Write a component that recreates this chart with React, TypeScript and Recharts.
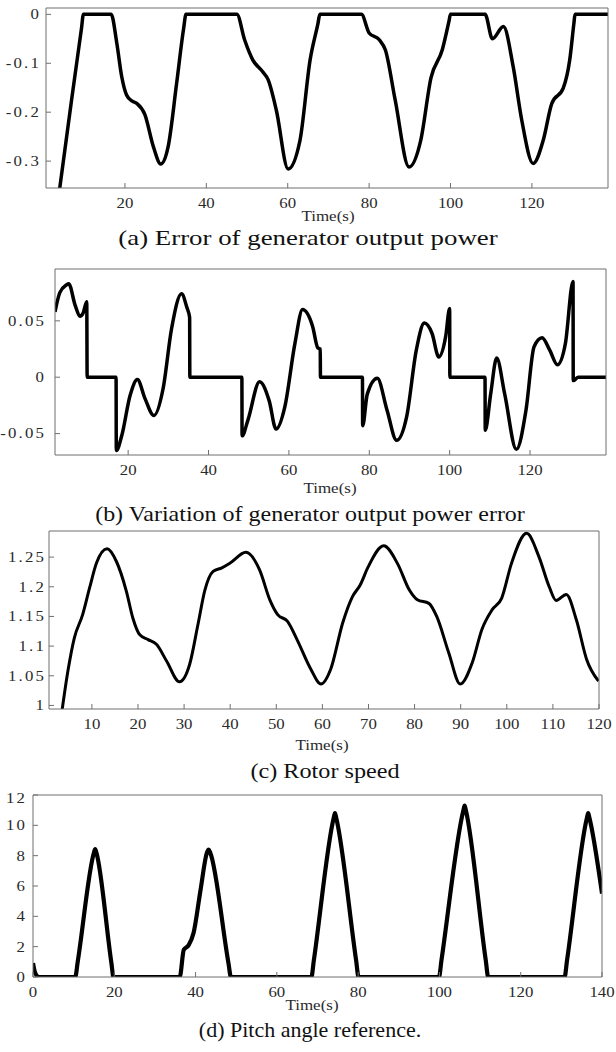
import React from 'react';
import { LineChart, Line, XAxis, YAxis } from 'recharts';

// (a) error of generator output power
const timeA = [3.9, 6.8, 9.3, 9.8, 13, 16.6, 18.0, 19.2, 20.4, 21.7, 22.9, 24.9, 27, 28.8, 30.6, 32.7, 34.4, 35, 41, 47.5, 49.4, 51.4, 53.8, 55.2, 57.2, 60.1, 63, 65.5, 67.4, 67.9, 73, 78.1, 80, 82.5, 84, 86.4, 89.8, 92.7, 95.2, 98, 99.6, 100, 104, 108.5, 110.3, 113, 115.4, 117.5, 120.3, 122.8, 124.9, 127.7, 129.3, 130.3, 130.6, 135, 138.7];
const errA = [-0.36, -0.18, -0.03, 0, 0, 0, -0.059, -0.127, -0.165, -0.177, -0.182, -0.205, -0.271, -0.306, -0.271, -0.141, -0.03, 0, 0, 0, -0.052, -0.093, -0.117, -0.134, -0.196, -0.316, -0.258, -0.093, -0.02, 0, 0, 0, -0.038, -0.052, -0.073, -0.175, -0.312, -0.257, -0.13, -0.072, -0.015, 0, 0, 0, -0.05, -0.025, -0.107, -0.216, -0.305, -0.257, -0.182, -0.151, -0.093, -0.02, 0, 0, 0];

// (b) variation of generator output power error
const timeB = [1.8, 3.0, 4.7, 5.2, 6.8, 8.0, 8.8, 9.7, 9.8, 13, 17, 17.05, 18.4, 20.5, 22.3, 24.2, 26.4, 28.7, 30.8, 33.3, 34.6, 35.3, 35.35, 41, 48.3, 48.35, 49.8, 52.7, 55.1, 56.8, 59, 61.5, 63.4, 65.9, 67.2, 67.8, 67.85, 73, 78.3, 78.35, 79.5, 82, 84.4, 86.8, 89.3, 91.7, 93.7, 95.6, 97.3, 99, 100, 100.05, 104, 108.8, 108.85, 110.2, 111.7, 113.7, 116.6, 119, 121, 123, 124.9, 126.8, 128.8, 130.7, 130.75, 132, 136, 138.9];
const varB = [0.058, 0.075, 0.082, 0.083, 0.064, 0.054, 0.057, 0.067, 0, 0, 0, -0.065, -0.052, -0.016, -0.002, -0.019, -0.034, -0.01, 0.043, 0.074, 0.062, 0.053, 0, 0, 0, -0.052, -0.038, -0.004, -0.021, -0.046, -0.026, 0.03, 0.06, 0.045, 0.026, 0.025, 0, 0, 0, -0.043, -0.015, -0.001, -0.029, -0.056, -0.035, 0.024, 0.048, 0.039, 0.018, 0.036, 0.061, 0, 0, 0, -0.047, -0.015, 0.017, -0.015, -0.064, -0.029, 0.027, 0.035, 0.024, 0.011, 0.03, 0.085, -0.003, 0, 0, 0];

// (c) rotor speed
const timeC = [3.5, 4.8, 6.2, 8.0, 9.5, 11, 13.3, 15.3, 17.5, 18.9, 20.4, 22.2, 24, 26.2, 29, 31.2, 33, 34.5, 36.3, 38.2, 40, 43.4, 46.4, 48.6, 50.3, 52.4, 54.5, 57.5, 59.7, 61.8, 64.4, 66.5, 68.2, 69.9, 73.3, 76.3, 78.9, 80.6, 83.1, 84.8, 87.4, 89.9, 92.5, 94.6, 96.8, 98.9, 101, 104.3, 107, 109.2, 110.7, 112.9, 115.1, 117.3, 119.9];
const speedC = [0.99, 1.058, 1.114, 1.153, 1.198, 1.24, 1.264, 1.243, 1.192, 1.147, 1.119, 1.111, 1.103, 1.075, 1.04, 1.069, 1.136, 1.194, 1.226, 1.232, 1.24, 1.258, 1.228, 1.178, 1.153, 1.142, 1.111, 1.061, 1.036, 1.061, 1.139, 1.183, 1.203, 1.233, 1.269, 1.239, 1.194, 1.178, 1.172, 1.15, 1.089, 1.036, 1.072, 1.128, 1.161, 1.181, 1.239, 1.29, 1.25, 1.2, 1.177, 1.187, 1.144, 1.078, 1.041];

// (d) pitch angle reference
const timeD = [0, 0.5, 1.4, 6, 10.4, 11, 15.0, 15.3, 15.6, 19.3, 19.8, 28, 36.1, 37.1, 38.3, 39.5, 41.2, 42.8, 43.2, 43.6, 48.1, 48.7, 58, 68.5, 69.1, 74, 74.3, 74.6, 79.5, 80.1, 90, 99.9, 100.5, 105.9, 106.2, 106.5, 111.4, 112, 121, 130.8, 131.4, 136.3, 136.6, 136.9, 140];
const pitchD = [0.92, 0.3, 0, 0, 0, 1.0, 8.2, 8.43, 8.2, 0.9, 0, 0, 0, 1.8, 2.1, 2.9, 5.7, 8.2, 8.4, 8.2, 0.9, 0, 0, 0, 1.1, 10.5, 10.8, 10.5, 1.1, 0, 0, 0, 1.1, 11.0, 11.3, 11.0, 1.1, 0, 0, 0, 1.1, 10.5, 10.8, 10.5, 5.5];

const ticksA_x = [20, 40, 60, 80, 100, 120];
const ticksA_y = [-0.3, -0.2, -0.1, 0];
const ticksB_x = [20, 40, 60, 80, 100, 120];
const ticksB_y = [-0.05, 0, 0.05];
const ticksC_x = [10, 20, 30, 40, 50, 60, 70, 80, 90, 100, 110, 120];
const ticksC_y = [1, 1.05, 1.1, 1.15, 1.2, 1.25];
const ticksD_x = [0, 20, 40, 60, 80, 100, 120, 140];
const ticksD_y = [0, 2, 4, 6, 8, 10, 12];

const zip = (ts: number[], vs: number[]) => ts.map((t, i) => ({ t, v: vs[i] }));

const W = 616;
const FONT = '"Liberation Serif", "Times New Roman", Times, serif';
const GRID = '#6f6f6f';
const TXT = '#2a2a2a';

// tick labels in the source look horizontally stretched
const XTick = ({ x, y, payload }: any) => (
  <text transform={`translate(${x},${y}) scale(1.2,1)`} textAnchor="middle" dy="0.71em"
    fontFamily={FONT} fontSize={14} fill={TXT}>
    {String(payload.value)}
  </text>
);

const YTick = ({ x, y, payload }: any) => (
  <text transform={`translate(${x},${y}) scale(1.2,1)`} textAnchor="end" dy="0.35em"
    fontFamily={FONT} fontSize={14} fill={TXT} letterSpacing={1.8}>
    {String(payload.value)}
  </text>
);

interface PanelProps {
  data: { t: number; v: number }[];
  box: { l: number; t: number; r: number; b: number };
  xDomain: [number, number];
  yDomain: [number, number];
  xTicks: number[];
  yTicks: number[];
  sw: number;
  yGap: number;
  timeX: number;
  timeY: number;
  caption: string;
  captionX: number;
  captionY: number;
  capScale: number;
}

const Panel: React.FC<PanelProps> = ({ data, box, xDomain, yDomain, xTicks, yTicks, sw, yGap, timeX, timeY, caption, captionX, captionY, capScale }) => {
  const top = box.t - 6;
  const height = box.b - top + 30;
  return (
    <>
      <div style={{ position: 'absolute', left: 0, top, width: W, height }}>
        <LineChart width={W} height={height} data={data} margin={{ top: 5, right: W - box.r - 1, bottom: 0, left: 0 }}>
          <XAxis xAxisId="bottom" orientation="bottom" type="number" dataKey="t" domain={xDomain} ticks={xTicks}
            allowDataOverflow height={30} tickSize={-5} tickMargin={15} stroke={GRID} tick={<XTick />} />
          <XAxis xAxisId="top" orientation="top" type="number" dataKey="t" domain={xDomain} ticks={xTicks}
            allowDataOverflow height={1} tickSize={-5} tick={false} stroke={GRID} />
          <YAxis yAxisId="left" orientation="left" type="number" domain={yDomain} ticks={yTicks}
            allowDataOverflow width={box.l} tickSize={-5} tickMargin={5 + yGap} stroke={GRID} tick={<YTick />} />
          <YAxis yAxisId="right" orientation="right" type="number" domain={yDomain} ticks={yTicks}
            allowDataOverflow width={1} tickSize={-5} tick={false} stroke={GRID} />
          <Line xAxisId="bottom" yAxisId="left" type="monotone" dataKey="v" stroke="#000" strokeWidth={sw}
            dot={false} isAnimationActive={false} strokeLinejoin="round" />
        </LineChart>
      </div>
      <div style={{ position: 'absolute', left: timeX, top: timeY, transform: 'translate(-50%, -50%) scaleX(1.13)', fontFamily: FONT, fontSize: 15, color: TXT, whiteSpace: 'nowrap', lineHeight: 1 }}>
        Time(s)
      </div>
      <div style={{ position: 'absolute', left: captionX, top: captionY, transform: `translate(-50%, -50%) scaleX(${capScale})`, fontFamily: FONT, fontSize: 22, color: '#111', whiteSpace: 'nowrap', lineHeight: 1 }}>
        {caption}
      </div>
    </>
  );
};

export default function App() {
  return (
    <div style={{ position: 'absolute', left: 0, top: 0, width: W, height: 1052, background: '#fff', overflow: 'hidden' }}>
      <Panel data={zip(timeA, errA)} box={{ l: 46, t: 8, r: 608, b: 188 }} xDomain={[0.6, 138.7]} yDomain={[-0.355, 0.013]}
        xTicks={ticksA_x} yTicks={ticksA_y} sw={3.5} yGap={5} timeX={328} timeY={216}
        caption="(a) Error of generator output power" captionX={308} captionY={238} capScale={1.22} />
      <Panel data={zip(timeB, varB)} box={{ l: 55, t: 269, r: 606, b: 455 }} xDomain={[1.8, 138.9]} yDomain={[-0.069, 0.096]}
        xTicks={ticksB_x} yTicks={ticksB_y} sw={3.5} yGap={9} timeX={330} timeY={488}
        caption="(b) Variation of generator output power error" captionX={310} captionY={514} capScale={1.09} />
      <Panel data={zip(timeC, speedC)} box={{ l: 49, t: 531, r: 599, b: 709 }} xDomain={[0.7, 120]} yDomain={[0.994, 1.294]}
        xTicks={ticksC_x} yTicks={ticksC_y} sw={3} yGap={3} timeX={322} timeY={745}
        caption="(c) Rotor speed" captionX={325} captionY={771} capScale={1.1} />
      <Panel data={zip(timeD, pitchD)} box={{ l: 33, t: 795, r: 602, b: 977 }} xDomain={[0, 140]} yDomain={[0, 12]}
        xTicks={ticksD_x} yTicks={ticksD_y} sw={4.2} yGap={6} timeX={312} timeY={1005}
        caption="(d) Pitch angle reference." captionX={310} captionY={1030} capScale={1.0} />
    </div>
  );
}
